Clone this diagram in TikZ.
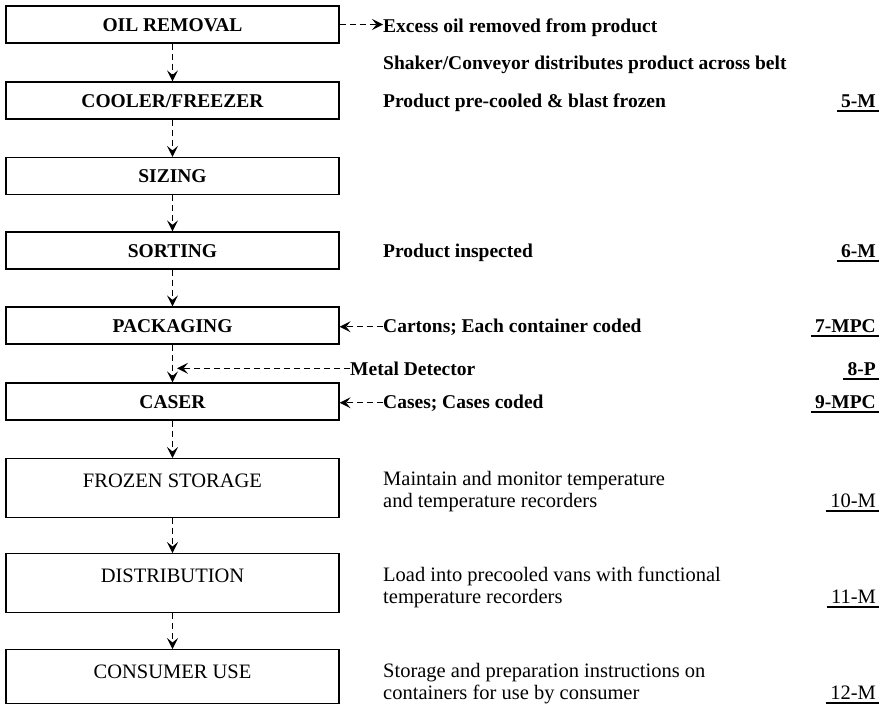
\documentclass[tikz,border=0pt]{standalone}
\usepackage{fontspec}
\setmainfont{Liberation Serif}
\usetikzlibrary{arrows.meta}

\tikzset{
  stagebox/.style={draw, line width=1.2pt, minimum width=333pt, minimum height=37pt,
    inner sep=0pt, font=\bfseries\fontsize{19.5}{22}\selectfont, text height=13.5pt, text depth=0pt},
  storebox/.style={draw, line width=1.2pt, minimum width=333pt, anchor=north, inner xsep=0pt,
    inner ysep=15pt, font=\fontsize{20.5}{22}\selectfont, text height=14pt, text depth=15pt},
  note/.style={anchor=base west, inner sep=0pt, font=\bfseries\fontsize{19.5}{22}\selectfont},
  longnote/.style={anchor=base west, inner sep=0pt, align=left, font=\fontsize{20.5}{22}\selectfont},
  ccp/.style={anchor=base east, inner sep=0pt, font=\bfseries\fontsize{19.5}{22}\selectfont},
  ccpline/.style={line width=1.4pt},
  flow/.style={line width=1.3pt, dash pattern=on 6pt off 4pt,
    -{Stealth[length=11pt,width=11pt,inset=4.5pt]}}
}

\begin{document}
\begin{tikzpicture}[x=1pt,y=-1pt]
\useasboundingbox (0,0) rectangle (885,704);

\node[stagebox] (oil) at (172.5,24.5) {OIL REMOVAL};
\node[stagebox] (cooler) at (172.5,100.5) {COOLER/FREEZER};
\node[stagebox] (sizing) at (172.5,176) {SIZING};
\node[stagebox] (sorting) at (172.5,250.5) {SORTING};
\node[stagebox] (pack) at (172.5,325.5) {PACKAGING};
\node[stagebox] (caser) at (172.5,401.5) {CASER};
\node[storebox] (frozen) at (172.5,458) {FROZEN STORAGE};
\node[storebox] (distr) at (172.5,553) {DISTRIBUTION};
\node[storebox,text depth=10pt] (consumer) at (172.5,649) {CONSUMER USE};

\draw[flow] (oil) -- (cooler);
\draw[flow] (cooler) -- (sizing);
\draw[flow] (sizing) -- (sorting);
\draw[flow] (sorting) -- (pack);
\draw[flow] (pack) -- (caser);
\draw[flow] (caser) -- (frozen);
\draw[flow] (frozen) -- (distr);
\draw[flow] (distr) -- (consumer);

% notes beside the line
\node[note] (excess) at (383,32) {Excess oil removed from product};
\node[note] (shaker) at (383,69) {Shaker/Conveyor distributes product across belt};
\node[note] (precool) at (383,107) {Product pre-cooled \& blast frozen};
\node[note] (inspect) at (383,257) {Product inspected};
\node[note] (cartons) at (383,332) {Cartons; Each container coded};
\node[note] (metal) at (350,375) {Metal Detector};
\node[note] (cases) at (383,408) {Cases; Cases coded};
\node[longnote] (monitor) at (383,507) {Maintain and monitor temperature\\and temperature recorders};
\node[longnote] (vans) at (383,603) {Load into precooled vans with functional\\temperature recorders};
\node[longnote] (instr) at (383,699) {Storage and preparation instructions on\\containers for use by consumer};

\draw[flow] (oil.east) -- (oil.east -| excess.west);
\draw[flow] (cartons.west) -- (cartons.west -| pack.east);
\draw[flow] (cases.west) -- (cases.west -| caser.east);
\coordinate (mdtip) at (177,370);
\draw[flow] (metal.west) -- (metal.west -| mdtip);

% control points
\node[ccp] (c5) at (876,107) {5-M};
\node[ccp] (c6) at (876,257) {6-M};
\node[ccp] (c7) at (876,332) {7-MPC};
\node[ccp] (c8) at (876,375) {8-P};
\node[ccp] (c9) at (876,408) {9-MPC};
\node[ccp,font=\fontsize{20.5}{22}\selectfont] (c10) at (876,507) {10-M};
\node[ccp,font=\fontsize{20.5}{22}\selectfont] (c11) at (876,603) {11-M};
\node[ccp,font=\fontsize{20.5}{22}\selectfont] (c12) at (876,699) {12-M};

\draw[ccpline] ([xshift=-4pt,yshift=-4pt]c5.base west) -- ([xshift=3pt,yshift=-4pt]c5.base east);
\draw[ccpline] ([xshift=-4pt,yshift=-4pt]c6.base west) -- ([xshift=3pt,yshift=-4pt]c6.base east);
\draw[ccpline] ([xshift=-4pt,yshift=-4pt]c7.base west) -- ([xshift=3pt,yshift=-4pt]c7.base east);
\draw[ccpline] ([xshift=-4pt,yshift=-4pt]c8.base west) -- ([xshift=3pt,yshift=-4pt]c8.base east);
\draw[ccpline] ([xshift=-4pt,yshift=-4pt]c9.base west) -- ([xshift=3pt,yshift=-4pt]c9.base east);
\draw[ccpline] ([xshift=-4pt,yshift=-4pt]c10.base west) -- ([xshift=3pt,yshift=-4pt]c10.base east);
\draw[ccpline] ([xshift=-4pt,yshift=-4pt]c11.base west) -- ([xshift=3pt,yshift=-4pt]c11.base east);
\draw[ccpline] ([xshift=-4pt,yshift=-4pt]c12.base west) -- ([xshift=3pt,yshift=-4pt]c12.base east);

\end{tikzpicture}
\end{document}
